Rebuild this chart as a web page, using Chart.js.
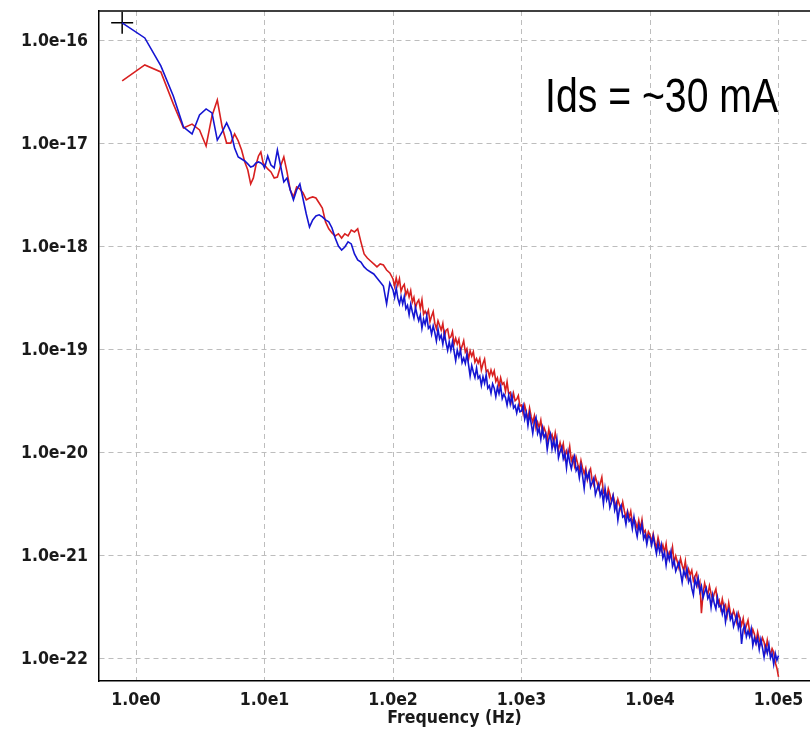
<!DOCTYPE html>
<html>
<head>
<meta charset="utf-8">
<script src="https://cdn.jsdelivr.net/npm/chart.js@4.4.1/dist/chart.umd.min.js"></script>
<style>
html, body { margin: 0; padding: 0; background: #fff; overflow: hidden; }
canvas { display: block; }
</style>
</head>
<body>
<canvas id="noiseChart" width="810" height="737"></canvas>
<script>
// frequency points (Hz), shared by both traces
const freqHz = [
    0.78, 1.17, 1.56, 1.95, 2.34, 2.73, 3.12, 3.51, 3.90, 4.29, 4.68, 5.07,
    5.46, 5.85, 6.24, 6.63, 7.02, 7.41, 7.80, 8.19, 8.58, 8.97, 9.36, 9.75,
    10.0, 10.59, 11.22, 11.89, 12.59, 13.34, 14.13, 14.96, 15.85, 16.79, 17.78, 18.84,
    19.95, 21.13, 22.39, 23.71, 25.12, 26.61, 28.18, 29.85, 31.62, 33.50, 35.48, 37.58,
    39.81, 42.17, 44.67, 47.32, 50.12, 53.09, 56.23, 59.57, 63.10, 66.83, 70.79, 74.99,
    79.43, 84.14, 89.13, 94.41,
    100, 102.9, 105.9, 109.0, 112.2, 115.5, 118.9, 122.3, 125.9, 129.6, 133.4, 137.3,
    141.3, 145.4, 149.6, 154.0, 158.5, 163.1, 167.9, 172.8, 177.8, 183.0, 188.4, 193.9,
    199.5, 205.4, 211.3, 217.5, 223.9, 230.4, 237.1, 244.1, 251.2, 258.5, 266.1, 273.8,
    281.8, 290.1, 298.5, 307.3, 316.2, 325.5, 335.0, 344.8, 354.8, 365.2, 375.8, 386.8,
    398.1, 409.7, 421.7, 434.0, 446.7, 459.7, 473.2, 487.0, 501.2, 515.8, 530.9, 546.4,
    562.3, 578.8, 595.7, 613.1, 631.0, 649.4, 668.3, 687.9, 707.9, 728.6, 749.9, 771.8,
    794.3, 817.5, 841.4, 866.0, 891.3, 917.3, 944.1, 971.6,
    1000, 1029, 1059, 1090, 1122, 1155, 1189, 1223, 1259, 1296, 1334, 1372,
    1413, 1454, 1496, 1540, 1585, 1631, 1679, 1728, 1778, 1830, 1884, 1939,
    1995, 2054, 2113, 2175, 2239, 2304, 2371, 2441, 2512, 2585, 2661, 2738,
    2818, 2901, 2985, 3073, 3162, 3255, 3350, 3447, 3548, 3652, 3758, 3868,
    3981, 4097, 4217, 4340, 4467, 4597, 4732, 4870, 5012, 5158, 5309, 5464,
    5623, 5788, 5957, 6131, 6310, 6494, 6683, 6879, 7079, 7286, 7499, 7718,
    7943, 8175, 8414, 8660, 8913, 9173, 9441, 9716,
    10000, 10290, 10590, 10900, 11220, 11550, 11890, 12230, 12590, 12960, 13340, 13720,
    14130, 14540, 14960, 15400, 15850, 16310, 16790, 17280, 17780, 18300, 18840, 19390,
    19950, 20540, 21130, 21750, 22390, 23040, 23710, 24410, 25120, 25850, 26610, 27380,
    28180, 29010, 29850, 30730, 31620, 32550, 33500, 34470, 35480, 36520, 37580, 38680,
    39810, 40970, 42170, 43400, 44670, 45970, 47320, 48700, 50120, 51580, 53090, 54640,
    56230, 57880, 59570, 61310, 63100, 64940, 66830, 68790, 70790, 72860, 74990, 77180,
    79430, 81750, 84140, 86600, 89130, 91730, 94410, 97160, 100000
];

// blue trace
const psdBlue = [
    1.50e-16, 1.07e-16, 5.72e-17, 2.92e-17, 1.46e-17, 1.25e-17, 1.91e-17, 2.19e-17, 2.00e-17, 1.09e-17, 1.31e-17, 1.60e-17,
    1.31e-17, 9.15e-18, 7.48e-18, 7.15e-18, 6.84e-18, 6.40e-18, 5.98e-18, 6.11e-18, 6.54e-18, 6.69e-18, 6.54e-18, 6.25e-18,
    5.85e-18, 7.65e-18, 6.25e-18, 5.85e-18, 8.74e-18, 6.11e-18, 4.28e-18, 4.68e-18, 3.58e-18, 2.86e-18, 3.58e-18, 4.09e-18,
    2.92e-18, 2.09e-18, 1.56e-18, 1.83e-18, 2.00e-18, 2.05e-18, 1.96e-18, 1.83e-18, 1.75e-18, 1.53e-18, 1.22e-18, 1.02e-18,
    9.35e-19, 1.00e-18, 1.12e-18, 1.07e-18, 8.55e-19, 7.48e-19, 7.15e-19, 6.40e-19, 5.98e-19, 5.72e-19, 5.47e-19, 5.00e-19,
    4.57e-19, 4.18e-19, 2.80e-19, 4.47e-19,
    3.82e-19, 3.23e-19, 4.00e-19, 3.17e-19, 2.80e-19, 3.31e-19, 2.80e-19, 3.31e-19, 2.51e-19, 2.71e-19, 2.20e-19, 2.78e-19,
    2.35e-19, 2.04e-19, 2.58e-19, 2.18e-19, 1.92e-19, 2.18e-19, 1.62e-19, 1.99e-19, 1.77e-19, 2.14e-19, 1.62e-19, 1.71e-19,
    1.42e-19, 1.71e-19, 1.48e-19, 1.22e-19, 1.59e-19, 1.28e-19, 1.39e-19, 1.14e-19, 1.45e-19, 1.18e-19, 9.93e-20, 1.20e-19,
    9.93e-20, 1.20e-19, 9.73e-20, 7.87e-20, 9.96e-20, 8.60e-20, 9.96e-20, 7.55e-20, 8.34e-20, 7.38e-20, 9.12e-20, 7.21e-20,
    5.59e-20, 7.07e-20, 6.11e-20, 5.41e-20, 6.69e-20, 5.30e-20, 5.60e-20, 4.53e-20, 5.48e-20, 4.74e-20, 5.74e-20, 4.25e-20,
    4.49e-20, 3.80e-20, 4.70e-20, 4.26e-20, 3.52e-20, 4.35e-20, 3.76e-20, 4.45e-20, 3.37e-20, 3.73e-20, 3.45e-20, 2.91e-20,
    3.61e-20, 2.99e-20, 3.62e-20, 2.73e-20, 2.89e-20, 2.45e-20, 2.89e-20, 2.51e-20,
    2.56e-20, 2.89e-20, 2.13e-20, 2.46e-20, 1.85e-20, 2.40e-20, 1.94e-20, 1.55e-20, 2.01e-20, 2.22e-20, 1.55e-20, 1.72e-20,
    1.36e-20, 1.75e-20, 1.41e-20, 1.53e-20, 1.08e-20, 1.36e-20, 1.53e-20, 1.10e-20, 1.33e-20, 1.08e-20, 1.36e-20, 8.97e-21,
    1.03e-20, 1.14e-20, 8.81e-21, 9.93e-21, 7.18e-21, 1.01e-20, 8.14e-21, 7.03e-21, 8.48e-21, 9.35e-21, 6.75e-21, 7.29e-21,
    5.74e-21, 7.42e-21, 5.98e-21, 4.52e-21, 6.51e-21, 5.62e-21, 6.49e-21, 4.68e-21, 5.16e-21, 5.70e-21, 3.93e-21, 4.43e-21,
    5.00e-21, 3.85e-21, 4.34e-21, 3.21e-21, 4.53e-21, 3.49e-21, 3.94e-21, 2.96e-21, 3.36e-21, 3.86e-21, 2.79e-21, 3.22e-21,
    2.23e-21, 2.87e-21, 3.10e-21, 2.38e-21, 2.46e-21, 2.03e-21, 2.61e-21, 2.17e-21, 2.29e-21, 1.84e-21, 2.37e-21, 1.83e-21,
    1.54e-21, 1.99e-21, 1.72e-21, 2.03e-21, 1.47e-21, 1.62e-21, 1.30e-21, 1.58e-21,
    1.50e-21, 1.27e-21, 1.56e-21, 1.27e-21, 1.05e-21, 1.32e-21, 1.09e-21, 1.29e-21, 9.54e-22, 1.08e-21, 8.16e-22, 1.06e-21,
    9.12e-22, 1.10e-21, 7.98e-22, 9.00e-22, 7.12e-22, 7.88e-22, 8.71e-22, 6.88e-22, 5.57e-22, 7.20e-22, 6.37e-22, 7.53e-22,
    5.57e-22, 6.15e-22, 4.86e-22, 4.20e-22, 5.94e-22, 5.14e-22, 6.08e-22, 4.50e-22, 5.09e-22, 3.93e-22, 4.44e-22, 4.90e-22,
    3.87e-22, 4.19e-22, 3.17e-22, 4.19e-22, 3.47e-22, 3.06e-22, 3.96e-22, 3.21e-22, 3.31e-22, 2.74e-22, 3.24e-22, 2.29e-22,
    2.83e-22, 3.06e-22, 2.42e-22, 2.68e-22, 2.07e-22, 2.34e-22, 2.71e-22, 1.99e-22, 2.31e-22, 1.40e-22, 1.94e-22, 2.13e-22,
    1.65e-22, 1.87e-22, 1.65e-22, 1.96e-22, 1.35e-22, 1.60e-22, 1.41e-22, 1.60e-22, 1.24e-22, 1.55e-22, 1.29e-22, 1.04e-22,
    1.32e-22, 1.14e-22, 1.38e-22, 1.02e-22, 1.13e-22, 8.88e-23, 1.13e-22, 9.71e-23, 1.08e-22
];

// red trace
const psdRed = [
    4.10e-17, 5.85e-17, 5.00e-17, 2.45e-17, 1.43e-17, 1.56e-17, 1.37e-17, 9.56e-18, 1.87e-17, 2.67e-17, 1.46e-17, 1.02e-17,
    1.02e-17, 1.25e-17, 1.07e-17, 8.74e-18, 6.69e-18, 5.59e-18, 4.09e-18, 4.68e-18, 6.25e-18, 7.65e-18, 8.36e-18, 6.54e-18,
    6.25e-18, 5.72e-18, 5.35e-18, 4.68e-18, 4.78e-18, 6.11e-18, 7.48e-18, 5.35e-18, 3.58e-18, 3.06e-18, 3.82e-18, 3.66e-18,
    3.34e-18, 2.86e-18, 2.99e-18, 3.06e-18, 2.99e-18, 2.67e-18, 2.39e-18, 1.75e-18, 1.50e-18, 1.37e-18, 1.28e-18, 1.34e-18,
    1.22e-18, 1.34e-18, 1.28e-18, 1.46e-18, 1.40e-18, 1.50e-18, 1.12e-18, 8.55e-19, 7.82e-19, 7.31e-19, 6.84e-19, 6.40e-19,
    6.84e-19, 6.69e-19, 5.98e-19, 5.59e-19,
    4.89e-19, 4.14e-19, 5.00e-19, 4.24e-19, 4.90e-19, 3.71e-19, 4.10e-19, 4.33e-19, 3.44e-19, 3.80e-19, 3.27e-19, 3.77e-19,
    2.92e-19, 3.24e-19, 2.56e-19, 2.89e-19, 3.06e-19, 2.53e-19, 3.07e-19, 2.22e-19, 2.38e-19, 2.20e-19, 2.43e-19, 1.88e-19,
    2.13e-19, 2.36e-19, 1.82e-19, 1.61e-19, 1.92e-19, 1.73e-19, 1.56e-19, 1.81e-19, 1.34e-19, 1.55e-19, 1.60e-19, 1.30e-19,
    1.34e-19, 1.51e-19, 1.14e-19, 1.30e-19, 1.14e-19, 1.27e-19, 9.81e-20, 1.09e-19, 1.23e-19, 9.54e-20, 1.03e-19, 8.12e-20,
    9.81e-20, 8.70e-20, 9.63e-20, 7.61e-20, 8.24e-20, 7.46e-20, 8.24e-20, 6.38e-20, 7.38e-20, 8.15e-20, 6.18e-20, 6.39e-20,
    5.53e-20, 6.39e-20, 5.65e-20, 6.26e-20, 4.95e-20, 5.36e-20, 4.43e-20, 5.36e-20, 4.64e-20, 4.81e-20, 3.97e-20, 4.91e-20,
    3.75e-20, 3.88e-20, 3.15e-20, 3.80e-20, 3.21e-20, 3.32e-20, 3.60e-20, 2.85e-20,
    2.93e-20, 2.42e-20, 2.91e-20, 2.46e-20, 2.12e-20, 2.73e-20, 2.25e-20, 1.99e-20, 2.30e-20, 1.74e-20, 1.99e-20, 1.76e-20,
    2.08e-20, 1.56e-20, 1.77e-20, 1.59e-20, 1.32e-20, 1.70e-20, 1.40e-20, 1.51e-20, 1.24e-20, 1.57e-20, 1.27e-20, 1.08e-20,
    1.26e-20, 1.07e-20, 1.23e-20, 9.08e-21, 1.05e-20, 9.44e-21, 1.16e-20, 8.40e-21, 9.27e-21, 7.48e-21, 9.02e-21, 7.79e-21,
    6.86e-21, 8.47e-21, 7.15e-21, 6.31e-21, 7.12e-21, 5.49e-21, 6.34e-21, 6.99e-21, 5.39e-21, 4.87e-21, 5.87e-21, 5.18e-21,
    4.47e-21, 5.05e-21, 5.81e-21, 4.10e-21, 4.23e-21, 3.65e-21, 4.50e-21, 3.97e-21, 3.36e-21, 3.87e-21, 3.34e-21, 2.88e-21,
    3.55e-21, 3.13e-21, 2.77e-21, 3.34e-21, 2.75e-21, 2.37e-21, 2.74e-21, 2.37e-21, 2.72e-21, 2.10e-21, 2.32e-21, 2.14e-21,
    1.84e-21, 2.23e-21, 1.83e-21, 2.26e-21, 1.67e-21, 1.77e-21, 1.46e-21, 1.72e-21,
    1.60e-21, 1.36e-21, 1.64e-21, 1.36e-21, 1.20e-21, 1.51e-21, 1.28e-21, 1.13e-21, 1.28e-21, 1.08e-21, 1.31e-21, 9.72e-22,
    1.09e-21, 9.91e-22, 1.22e-21, 8.61e-22, 1.00e-21, 8.80e-22, 7.61e-22, 9.44e-22, 8.13e-22, 7.20e-22, 8.90e-22, 6.29e-22,
    7.44e-22, 6.56e-22, 7.26e-22, 5.74e-22, 6.35e-22, 6.86e-22, 5.08e-22, 5.61e-22, 2.78e-22, 4.29e-22, 5.43e-22, 4.68e-22,
    4.24e-22, 5.12e-22, 4.33e-22, 3.75e-22, 4.33e-22, 4.79e-22, 3.54e-22, 3.75e-22, 3.09e-22, 3.82e-22, 3.16e-22, 3.35e-22,
    2.65e-22, 3.50e-22, 2.82e-22, 2.55e-22, 2.95e-22, 2.62e-22, 2.26e-22, 2.79e-22, 2.47e-22, 2.13e-22, 2.47e-22, 1.86e-22,
    2.11e-22, 2.38e-22, 1.84e-22, 1.67e-22, 1.94e-22, 1.74e-22, 1.44e-22, 1.82e-22, 1.54e-22, 1.39e-22, 1.61e-22, 1.46e-22,
    1.21e-22, 1.52e-22, 1.23e-22, 1.11e-22, 1.26e-22, 1.16e-22, 9.18e-23, 8.13e-23, 6.69e-23
];

const xTickValues = [1, 10, 100, 1000, 10000, 100000];
const xTickLabels = ['1.0e0', '1.0e1', '1.0e2', '1.0e3', '1.0e4', '1.0e5'];
const yTickValues = [1e-22, 1e-21, 1e-20, 1e-19, 1e-18, 1e-17, 1e-16];
const yTickLabels = ['1.0e-22', '1.0e-21', '1.0e-20', '1.0e-19', '1.0e-18', '1.0e-17', '1.0e-16'];

const noteText = 'Ids = ~30 mA';

const fontFamily = "'DejaVu Sans Condensed', 'DejaVu Sans', sans-serif";
const tickFont = { family: fontFamily, size: 17.5, weight: 'bold' };

function toPoints(values) {
    return freqHz.map((f, i) => ({ x: f, y: values[i] }));
}

// top frame line + the big note
const frameAndNote = {
    id: 'frameAndNote',
    afterDraw(chart) {
        const { ctx, chartArea } = chart;
        ctx.save();
        ctx.strokeStyle = '#000';
        ctx.lineWidth = 1.5;
        ctx.beginPath();
        ctx.moveTo(chartArea.left, chartArea.top);
        ctx.lineTo(chartArea.right, chartArea.top);
        ctx.stroke();

        ctx.fillStyle = '#000';
        ctx.font = '49px "Liberation Sans", Arial, sans-serif';
        ctx.textBaseline = 'alphabetic';
        ctx.translate(chartArea.left + 446, chartArea.top + 101);
        ctx.scale(0.8, 1);
        ctx.fillText(noteText, 0, 0);
        ctx.restore();
    }
};

new Chart(document.getElementById('noiseChart'), {
    type: 'line',
    data: {
        datasets: [
            {
                label: 'blue',
                data: toPoints(psdBlue),
                borderColor: '#1515d2',
                borderWidth: 1.6,
                pointRadius: 0,
                tension: 0
            },
            {
                label: 'red',
                data: toPoints(psdRed),
                borderColor: '#d82020',
                borderWidth: 1.6,
                pointRadius: 0,
                tension: 0
            },
            {
                label: 'cursor',
                data: [{ x: freqHz[0], y: psdBlue[0] }],
                showLine: false,
                pointStyle: 'cross',
                pointRadius: 11,
                borderColor: '#000',
                borderWidth: 1.5
            }
        ]
    },
    options: {
        responsive: false,
        animation: false,
        devicePixelRatio: 1,
        layout: { autoPadding: false, padding: { top: 11, right: 0, bottom: 0, left: 0 } },
        plugins: {
            legend: { display: false },
            tooltip: { enabled: false }
        },
        scales: {
            x: {
                type: 'logarithmic',
                min: 0.515,
                max: 175800,
                afterBuildTicks: (scale) => {
                    scale.ticks = xTickValues.map(v => ({ value: v }));
                },
                afterFit: (scale) => {
                    scale.height = 56;
                    scale.paddingLeft = 0;
                    scale.paddingRight = 0;
                },
                ticks: {
                    autoSkip: false,
                    maxRotation: 0,
                    padding: 9,
                    color: '#1a1a1a',
                    font: tickFont,
                    callback: (value, index) => xTickLabels[index]
                },
                grid: { color: '#bdbdbd', lineWidth: 1, drawTicks: false },
                border: { display: true, color: '#000', width: 1.5, dash: [5, 4] },
                title: {
                    display: true,
                    text: 'Frequency (Hz)',
                    color: '#1a1a1a',
                    font: { family: fontFamily, size: 17.5, weight: 'bold' },
                    padding: { top: 0, bottom: 8 }
                }
            },
            y: {
                type: 'logarithmic',
                min: 6.11e-23,
                max: 1.954e-16,
                afterBuildTicks: (scale) => {
                    scale.ticks = yTickValues.map(v => ({ value: v }));
                },
                afterFit: (scale) => {
                    scale.width = 99;
                    scale.paddingTop = 0;
                    scale.paddingBottom = 0;
                },
                ticks: {
                    autoSkip: false,
                    padding: 11,
                    color: '#1a1a1a',
                    font: tickFont,
                    callback: (value, index) => yTickLabels[index]
                },
                grid: { color: '#bdbdbd', lineWidth: 1, drawTicks: false },
                border: { display: true, color: '#000', width: 1.5, dash: [5, 4] }
            }
        }
    },
    plugins: [frameAndNote]
});
</script>
</body>
</html>
